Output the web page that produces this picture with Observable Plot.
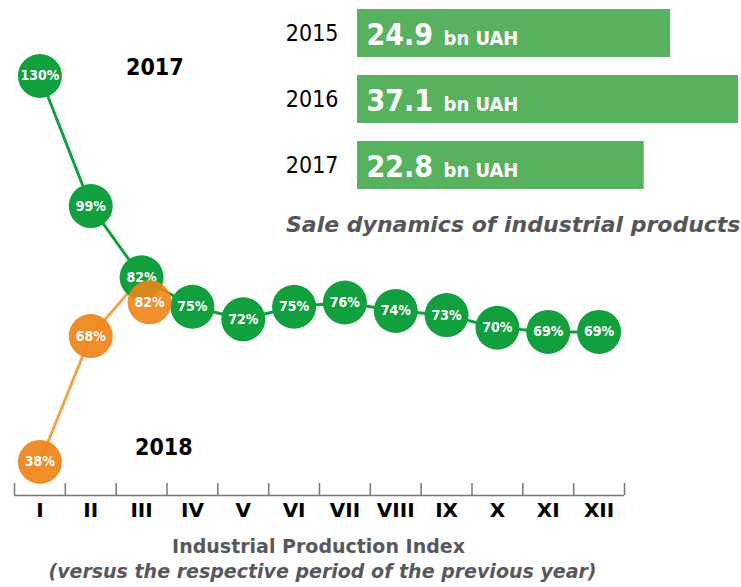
<!DOCTYPE html>
<html>
<head>
<meta charset="utf-8">
<script src="https://cdn.jsdelivr.net/npm/d3@7"></script>
<script src="https://cdn.jsdelivr.net/npm/@observablehq/plot@0.6"></script>
<style>
  html, body { margin: 0; padding: 0; background: #fff; overflow: hidden; }
  #wrap { position: relative; width: 741px; height: 587px; overflow: hidden;
          font-family: "DejaVu Sans Condensed", "DejaVu Sans", sans-serif; }
  .abs { position: absolute; white-space: nowrap; line-height: 1; }
  .yr { font-size: 23px; font-weight: bold; color: #000; }
  .title { font-family: "DejaVu Sans", sans-serif; font-size: 22px; font-weight: bold; font-style: italic; color: #55555a; }
  .axt { font-family: "DejaVu Sans", sans-serif; font-size: 19px; font-weight: bold; color: #58585c; text-align: center; width: 741px; }
</style>
</head>
<body>
<div id="wrap">
  <div id="main" class="abs" style="left:0;top:0"></div>
  <div id="bars" class="abs" style="left:280px;top:0"></div>
  <div class="abs yr" style="left:126px;top:55.5px">2017</div>
  <div class="abs yr" style="left:135px;top:435.5px">2018</div>
  <div class="abs title" style="left:286px;top:214px">Sale dynamics of industrial products</div>
  <div class="abs axt" style="left:-52px;top:537px">Industrial Production Index</div>
  <div class="abs axt" style="left:-48px;top:562px;font-style:italic">(versus the respective period of the previous year)</div>
</div>
<script>
// ---- data ----
const months = ["I", "II", "III", "IV", "V", "VI", "VII", "VIII", "IX", "X", "XI", "XII"];
const index2017 = [130, 99, 82, 75, 72, 75, 76, 74, 73, 70, 69, 69];
const index2018 = [38, 68, 82];
const saleYears = ["2015", "2016", "2017"];
const saleValues = [24.9, 37.1, 22.8];
const saleUnit = "bn UAH";

const GREEN = "#12a03e", ORANGE = "#ee8418", ORANGE_LINE = "#f4a24f", BAR = "#58b15e", AXIS = "#777";
const FONT = '"DejaVu Sans Condensed", "DejaVu Sans", sans-serif';

const s2017 = index2017.map((v, i) => ({m: i + 1, v}));
const s2018 = index2018.map((v, i) => ({m: i + 1, v}));
const monthIdx = months.map((_, i) => i + 1);
const bounds = d3.range(0, months.length + 1).map(i => i + 0.5);

const W = 741, H = 525, MB = 30;
const yDomain = [30, 148];

const main = Plot.plot({
  width: W, height: H,
  marginLeft: 14, marginRight: 117, marginTop: 0, marginBottom: MB,
  style: {fontFamily: '"DejaVu Sans", sans-serif', fontSize: "20px", fontWeight: "bold", color: "#000", background: "transparent"},
  x: {type: "linear", domain: [0.5, months.length + 0.5], axis: "bottom", ticks: monthIdx,
      tickFormat: i => months[i - 1], tickSize: 0, tickPadding: 7, label: null},
  y: {domain: yDomain, axis: null},
  marks: [
    Plot.ruleY([yDomain[0]], {stroke: AXIS, strokeWidth: 1.5}),
    Plot.tickX(bounds, {x: d => d, stroke: AXIS, strokeWidth: 1.5, insetTop: H - MB - 12}),
    Plot.line(s2018, {x: "m", y: "v", stroke: ORANGE_LINE, strokeWidth: 3}),
    Plot.line(s2017, {x: "m", y: "v", stroke: GREEN, strokeWidth: 3}),
    Plot.dot(s2017, {x: "m", y: "v", r: 22, fill: GREEN}),
    Plot.text(s2017, {x: "m", y: "v", text: d => d.v + "%", fill: "white", fontSize: 14, fontWeight: "bold", fontFamily: FONT}),
    Plot.dot(s2018.slice(0, -1), {x: "m", y: "v", r: 22, fill: ORANGE, fillOpacity: 0.93}),
    Plot.text(s2018.slice(0, -1), {x: "m", y: "v", text: d => d.v + "%", fill: "white", fontSize: 14, fontWeight: "bold", fontFamily: FONT}),
    Plot.dot(s2018.slice(-1), {x: "m", y: "v", r: 22, fill: ORANGE, fillOpacity: 0.9, dx: 8, dy: 25}),
    Plot.text(s2018.slice(-1), {x: "m", y: "v", text: d => d.v + "%", fill: "white", fontSize: 14, fontWeight: "bold", fontFamily: FONT, dx: 8, dy: 25})
  ]
});
document.getElementById("main").append(main);

const sales = saleYears.map((year, i) => ({year, value: saleValues[i]}));
const bars = Plot.plot({
  width: 458, height: 200,
  marginLeft: 77, marginRight: 0, marginTop: 0, marginBottom: 0,
  style: {fontFamily: FONT, fontSize: "23px", color: "#000", background: "transparent"},
  x: {domain: [0, 30.3], axis: null},
  y: {domain: saleYears, range: [9, 190], paddingInner: 0.27, paddingOuter: 0,
      axis: "left", tickSize: 0, tickPadding: 19, label: null},
  marks: [
    Plot.barX(sales, {x: "value", y: "year", fill: BAR, clip: true}),
    Plot.text(sales, {y: "year", frameAnchor: "left", text: d => d.value.toFixed(1), textAnchor: "start",
                      dx: 9, dy: 2, fill: "white", fontSize: 30, fontWeight: "bold"}),
    Plot.text(sales, {y: "year", frameAnchor: "left", text: () => saleUnit, textAnchor: "start",
                      dx: 86, dy: 5, fill: "white", fontSize: 20, fontWeight: "bold"})
  ]
});
document.getElementById("bars").append(bars);
</script>
</body>
</html>
